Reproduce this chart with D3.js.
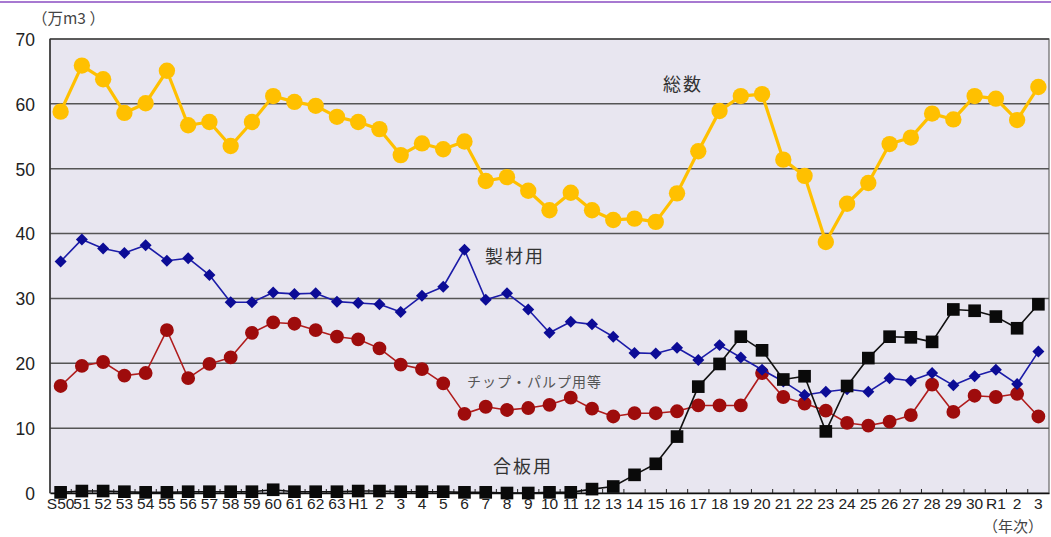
<!DOCTYPE html>
<html>
<head>
<meta charset="utf-8">
<script src="https://cdn.jsdelivr.net/npm/d3@7"></script>
<style>
  body { margin: 0; background: #fff; }
  svg { display: block; }
  .num { font-family: "Liberation Sans", Arial, sans-serif; fill: #222; }
  .jp { font-family: "Noto Sans CJK JP", sans-serif; }
</style>
</head>
<body>
<svg id="chart" width="1051" height="537"></svg>
<script>
// year labels (Showa 50 .. Reiwa 3)
const categories = ["S50","51","52","53","54","55","56","57","58","59","60","61","62","63",
  "H1","2","3","4","5","6","7","8","9","10","11","12","13","14","15","16","17","18","19","20",
  "21","22","23","24","25","26","27","28","29","30","R1","2","3"];

const totalVals = [58.8,65.9,63.8,58.6,60.1,65.1,56.7,57.2,53.5,57.2,61.2,60.3,59.7,58.0,
  57.2,56.1,52.1,53.9,53.0,54.2,48.1,48.7,46.6,
  43.6,46.3,43.6,42.1,42.3,41.8,46.2,52.7,58.9,61.2,61.5,51.4,48.9,38.7,44.6,47.8,53.8,54.8,58.5,57.6,61.2,
  60.8,57.5,62.6];

const sawnVals = [35.7,39.1,37.7,37.0,38.2,35.8,36.2,33.6,29.4,29.4,30.9,30.7,30.8,29.5,
  29.3,29.1,27.9,30.4,31.8,37.5,29.8,30.8,28.3,
  24.7,26.4,26.0,24.1,21.6,21.5,22.4,20.5,22.8,20.9,19.0,17.2,15.1,15.6,16.0,15.6,17.7,17.3,18.5,16.6,18.0,
  19.0,16.8,21.8];

const chipVals = [16.5,19.6,20.2,18.1,18.5,25.1,17.7,19.9,20.9,24.7,26.3,26.1,25.1,24.1,
  23.7,22.3,19.8,19.1,16.9,12.2,13.3,12.8,13.1,
  13.6,14.7,13.0,11.8,12.3,12.3,12.6,13.5,13.5,13.5,18.5,14.8,13.8,12.7,10.8,10.4,11.0,12.0,16.7,12.5,15.0,
  14.8,15.3,11.8];

const plyVals = [0.1,0.3,0.3,0.2,0.1,0.1,0.2,0.2,0.2,0.2,0.5,0.2,0.2,0.2,
  0.3,0.3,0.2,0.2,0.2,0.1,0.1,0.0,0.0,
  0.1,0.1,0.6,1.0,2.8,4.5,8.7,16.4,19.9,24.1,22.0,17.5,18.0,9.5,16.5,20.8,24.1,24.0,23.3,28.3,28.1,
  27.2,25.4,29.1];

const yTicks = [0,10,20,30,40,50,60,70];

var svg = d3.select("#chart");
var plotL = 50, plotR = 1049, plotT = 39, plotB = 493;

var x = d3.scaleBand().domain(d3.range(categories.length)).range([plotL, plotR]);
var y = d3.scaleLinear().domain([0, 70]).range([plotB, plotT]);
var cx = i => x(i) + x.bandwidth() / 2;

// purple rule at top of page
svg.append("line").attr("x1", 0).attr("x2", 1051).attr("y1", 2).attr("y2", 2)
  .attr("stroke", "#8a4cc2").attr("stroke-width", 1.5);

// plot background
svg.append("rect").attr("x", plotL).attr("y", plotT)
  .attr("width", plotR - plotL).attr("height", plotB - plotT)
  .attr("fill", "#e8e6f0").attr("stroke", "#666").attr("stroke-width", 1.2);

// gridlines
svg.append("g").selectAll("line")
  .data(yTicks.filter(d => d > 0 && d < 70))
  .join("line")
  .attr("x1", plotL).attr("x2", plotR)
  .attr("y1", d => y(d)).attr("y2", d => y(d))
  .attr("stroke", "#555").attr("stroke-width", 1.5);

svg.append("line").attr("x1", plotL).attr("x2", plotR).attr("y1", plotT).attr("y2", plotT)
  .attr("stroke", "#444").attr("stroke-width", 1.5);
svg.append("line").attr("x1", plotL).attr("x2", plotL).attr("y1", plotT).attr("y2", plotB)
  .attr("stroke", "#333").attr("stroke-width", 1.5);

// y axis labels
var yAxis = svg.append("g").attr("transform", `translate(${plotL - 15},0)`)
  .call(d3.axisLeft(y).tickValues(yTicks).tickSize(0).tickPadding(0));
yAxis.select(".domain").remove();
yAxis.selectAll("text").attr("class", "num").attr("font-size", 17.5).attr("dy", "0.36em");

// x axis with inward ticks at band edges
var xAxis = svg.append("g").attr("transform", `translate(0,${plotB})`)
  .call(d3.axisBottom(x).tickSize(0).tickPadding(5).tickFormat(i => categories[i]));
xAxis.select(".domain").attr("stroke", "#111").attr("stroke-width", 1.5);
xAxis.selectAll("text").attr("class", "num").attr("font-size", 15.5).attr("dy", "0.71em");

svg.append("g").selectAll("line")
  .data(d3.range(1, categories.length))
  .join("line")
  .attr("x1", i => x(i)).attr("x2", i => x(i))
  .attr("y1", plotB).attr("y2", plotB - 4)
  .attr("stroke", "#222").attr("stroke-width", 1);

function drawSeries(vals, lineColor, lineWidth, symbol, size, fill, rotate) {
  var line = d3.line().x((d, i) => cx(i)).y(d => y(d));
  svg.append("path").datum(vals)
    .attr("d", line).attr("fill", "none")
    .attr("stroke", lineColor).attr("stroke-width", lineWidth)
    .attr("stroke-linejoin", "round");
  svg.append("g").selectAll("path")
    .data(vals)
    .join("path")
    .attr("d", d3.symbol().type(symbol).size(size))
    .attr("transform", (d, i) => `translate(${cx(i)},${y(d)}) rotate(${rotate})`)
    .attr("fill", fill);
}

drawSeries(totalVals, "#ffc000", 3.2, d3.symbolCircle, 210, "#ffc000", 0);
drawSeries(chipVals, "#b01c1c", 1.6, d3.symbolCircle, 150, "#9e0c0c", 0);
drawSeries(sawnVals, "#1c1ca8", 1.6, d3.symbolSquare, 72, "#0c0c96", 45);
drawSeries(plyVals, "#111", 1.6, d3.symbolSquare, 160, "#0a0a0a", 0);

// series labels
svg.append("text").attr("class", "jp").attr("x", 663).attr("y", 91)
  .attr("font-size", 18).attr("letter-spacing", 2).attr("fill", "#333").text("総数");
svg.append("text").attr("class", "jp").attr("x", 485).attr("y", 263)
  .attr("font-size", 18).attr("letter-spacing", 2).attr("fill", "#333").text("製材用");
svg.append("text").attr("class", "jp").attr("x", 467).attr("y", 387)
  .attr("font-size", 14).attr("letter-spacing", 1).attr("fill", "#555").text("チップ・パルプ用等");
svg.append("text").attr("class", "jp").attr("x", 493).attr("y", 473)
  .attr("font-size", 18).attr("letter-spacing", 2).attr("fill", "#333").text("合板用");

// units
svg.append("text").attr("class", "jp").attr("x", 32).attr("y", 24)
  .attr("font-size", 15.5).attr("fill", "#444").text("（万m3 ）");
svg.append("text").attr("class", "jp").attr("x", 983).attr("y", 532)
  .attr("font-size", 15).attr("fill", "#444").text("（年次）");
</script>
</body>
</html>
